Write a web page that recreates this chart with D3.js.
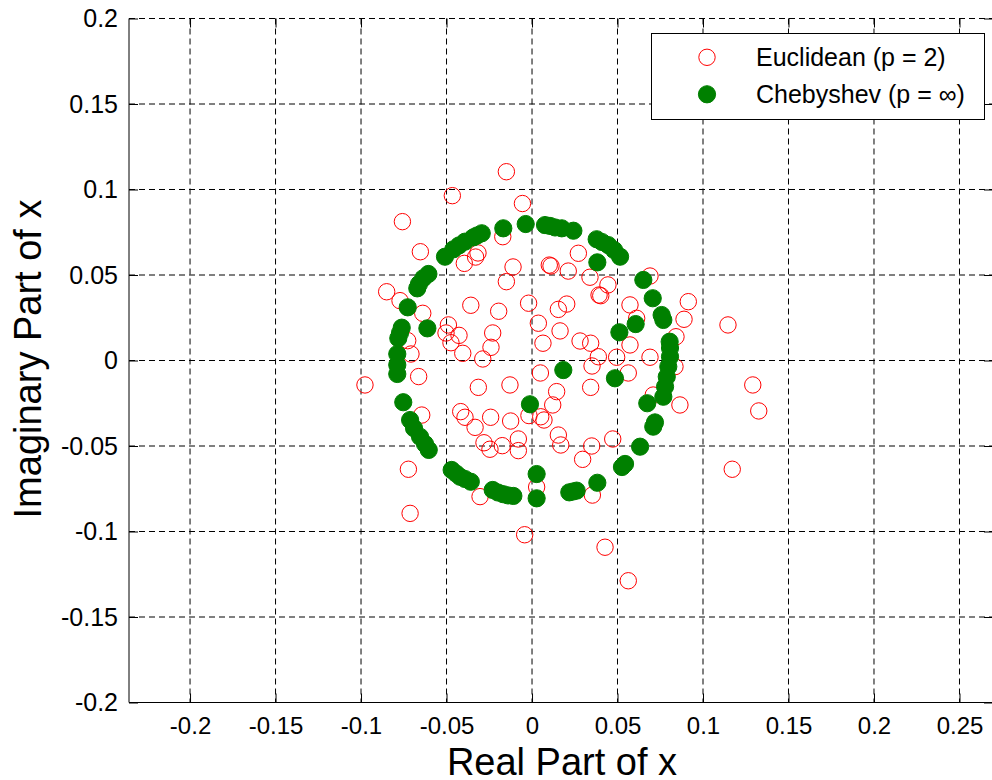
<!DOCTYPE html>
<html><head><meta charset="utf-8">
<script src="https://cdn.jsdelivr.net/npm/d3@7"></script>
<style>body{margin:0;background:#fff}svg{display:block}text{font-family:"Liberation Sans",Arial,Helvetica,sans-serif;fill:#000}</style>
</head><body><svg id="c" width="992" height="780"></svg>
<script>
const xTicks=[-0.2,-0.15,-0.1,-0.05,0,0.05,0.1,0.15,0.2,0.25];
const xTickLabels=["-0.2","-0.15","-0.1","-0.05","0","0.05","0.1","0.15","0.2","0.25"];
const yTicks=[-0.2,-0.15,-0.1,-0.05,0,0.05,0.1,0.15,0.2];
const yTickLabels=["-0.2","-0.15","-0.1","-0.05","0","0.05","0.1","0.15","0.2"];
const xLabel="Real Part of x";
const yLabel="Imaginary Part of x";
const seriesNames=["Euclidean (p = 2)","Chebyshev (p = \u221E)"];

const euclidX=[-0.0150,-0.0056,-0.0466,-0.0758,-0.0171,-0.0653,-0.0111,-0.0150,-0.0396,-0.0330,-0.0316,-0.0850,-0.0772,-0.0639,-0.0358,-0.0195,-0.0020,0.0037,-0.0489,-0.0503,-0.0427,-0.0474,-0.0405,-0.0230,-0.0240,-0.0288,-0.0727,-0.0708,-0.0663,0.0271,0.0101,0.0111,0.0212,0.0339,0.0444,0.0392,0.0402,0.0690,0.0573,0.0612,0.0914,0.0889,0.0154,0.0203,0.0164,0.0064,0.0281,0.0343,0.0573,0.0842,0.0388,0.0351,0.0495,0.0690,0.0836,0.0563,0.0049,0.0144,0.0343,0.0121,-0.0018,0.0051,0.0070,0.0154,0.0168,0.0349,0.0472,0.0296,0.0027,0.0353,-0.0043,0.0427,0.0563,0.0709,0.0865,0.1291,0.1326,0.1171,-0.0977,-0.0314,-0.0129,-0.0417,-0.0392,-0.0333,-0.0242,-0.0125,-0.0645,-0.0281,-0.0246,-0.0174,-0.0080,-0.0080,-0.0723,-0.0304,-0.0713,0.1146];
const euclidY=[0.1104,0.0918,0.0964,0.0812,0.0724,0.0636,0.0547,0.0461,0.0568,0.0605,0.0629,0.0402,0.0350,0.0276,0.0323,0.0288,0.0335,0.0218,0.0208,0.0161,0.0147,0.0104,0.0042,0.0161,0.0077,0.0009,0.0116,0.0038,-0.0094,0.0627,0.0558,0.0553,0.0523,0.0487,0.0442,0.0383,0.0379,0.0494,0.0325,0.0247,0.0344,0.0241,0.0299,0.0330,0.0173,0.0101,0.0114,0.0101,0.0091,0.0139,0.0022,-0.0032,0.0019,0.0019,-0.0036,-0.0073,-0.0073,-0.0182,-0.0157,-0.0260,-0.0322,-0.0329,-0.0348,-0.0436,-0.0494,-0.0500,-0.0459,-0.0578,-0.0740,-0.0787,-0.1019,-0.1092,-0.1288,-0.0202,-0.0260,-0.0143,-0.0295,-0.0636,-0.0143,-0.0157,-0.0143,-0.0299,-0.0332,-0.0391,-0.0332,-0.0354,-0.0319,-0.0481,-0.0519,-0.0498,-0.0459,-0.0527,-0.0636,-0.0796,-0.0894,0.0208];

const chebX=[-0.0037,-0.0168,-0.0294,-0.0322,-0.0343,-0.0392,-0.0427,-0.0460,-0.0509,-0.0606,-0.0636,-0.0661,-0.0671,-0.0727,-0.0762,-0.0772,-0.0782,-0.0788,-0.0788,-0.0788,-0.0612,-0.0753,-0.0713,-0.0690,-0.0655,-0.0626,-0.0604,-0.0470,-0.0444,-0.0421,-0.0392,-0.0358,-0.0230,-0.0199,-0.0168,-0.0140,-0.0109,-0.0012,0.0027,0.0027,0.0218,0.0240,0.0261,0.0382,0.0526,0.0544,0.0632,0.0709,0.0719,0.0674,0.0768,0.0778,0.0788,0.0797,0.0807,0.0807,0.0805,0.0183,0.0485,0.0511,0.0606,0.0758,0.0768,0.0706,0.0651,0.0382,0.0378,0.0409,0.0446,0.0480,0.0515,0.0076,0.0105,0.0135,0.0174,0.0242];
const chebY=[0.0798,0.0773,0.0744,0.0731,0.0720,0.0695,0.0673,0.0650,0.0607,0.0506,0.0481,0.0447,0.0422,0.0311,0.0192,0.0161,0.0130,0.0038,-0.0026,-0.0079,0.0188,-0.0244,-0.0348,-0.0396,-0.0446,-0.0488,-0.0523,-0.0640,-0.0661,-0.0680,-0.0693,-0.0709,-0.0757,-0.0772,-0.0782,-0.0789,-0.0792,-0.0256,-0.0664,-0.0806,-0.0771,-0.0766,-0.0761,-0.0715,-0.0623,-0.0605,-0.0504,-0.0387,-0.0362,-0.0250,-0.0212,-0.0153,-0.0095,-0.0036,0.0022,0.0073,0.0110,-0.0056,-0.0104,0.0165,0.0213,0.0266,0.0237,0.0364,0.0471,0.0574,0.0709,0.0693,0.0675,0.0646,0.0607,0.0792,0.0787,0.0778,0.0773,0.0759];

const svg=d3.select("#c");
const L=129,R=993,T=18.5,B=702.5;
const x=d3.scaleLinear().domain([-0.2357,0.2696]).range([L,R]);
const y=d3.scaleLinear().domain([-0.2,0.2]).range([B,T]);
const tickLen=9;

// grid
const grid=svg.append("g").attr("stroke","#000").attr("stroke-width",1).attr("stroke-dasharray","6,4").attr("fill","none");
grid.selectAll("line.v").data(xTicks).join("line").attr("class","v")
  .attr("x1",d=>x(d)).attr("x2",d=>x(d)).attr("y1",T).attr("y2",B);
grid.selectAll("line.h").data(yTicks.filter(d=>d>-0.2)).join("line").attr("class","h")
  .attr("x1",L).attr("x2",R).attr("y1",d=>y(d)).attr("y2",d=>y(d));

// axes with d3
const xAxisB=d3.axisBottom(x).tickValues(xTicks).tickSize(-tickLen).tickPadding(14).tickFormat((d,i)=>xTickLabels[i]);
const xAxisT=d3.axisTop(x).tickValues(xTicks).tickSize(-tickLen).tickFormat("");
const yAxisL=d3.axisLeft(y).tickValues(yTicks).tickSize(-tickLen).tickPadding(11).tickFormat((d,i)=>yTickLabels[i]);
const yAxisR=d3.axisRight(y).tickValues(yTicks).tickSize(-tickLen).tickFormat("");

const gB=svg.append("g").attr("transform",`translate(0,${B})`).call(xAxisB);
const gT=svg.append("g").attr("transform",`translate(0,${T})`).call(xAxisT);
const gL=svg.append("g").attr("transform",`translate(${L},0)`).call(yAxisL);
const gR=svg.append("g").attr("transform",`translate(${R},0)`).call(yAxisR);
[gB,gT,gL,gR].forEach(g=>{g.selectAll(".tick line").attr("stroke","#000");g.selectAll("text").style("font-family",'"Liberation Sans",Arial,sans-serif').attr("fill","#000");});
gT.select(".domain").remove();
gR.select(".domain").remove();
gB.select(".domain").attr("stroke","#000").attr("d",`M${L},0H${R}`);
gL.select(".domain").attr("stroke","#000").attr("d",`M0,${T}V${B}`);
gB.selectAll("text").style("font-size","24px");
gL.selectAll("text").style("font-size","25px");

// points
const eu=d3.range(euclidX.length).map(i=>({x:euclidX[i],y:euclidY[i]}));
const ch=d3.range(chebX.length).map(i=>({x:chebX[i],y:chebY[i]}));
svg.append("g").selectAll("circle").data(eu).join("circle")
  .attr("cx",d=>x(d.x)).attr("cy",d=>y(d.y)).attr("r",8.2)
  .attr("fill","none").attr("stroke","#ff0000").attr("stroke-width",1);
svg.append("g").selectAll("circle").data(ch).join("circle")
  .attr("cx",d=>x(d.x)).attr("cy",d=>y(d.y)).attr("r",8.6)
  .attr("fill","#008000").attr("stroke","#008000").attr("stroke-width",1);

// labels
svg.append("text").attr("x",562).attr("y",775).attr("text-anchor","middle").style("font-size","38px").text(xLabel);
svg.append("text").attr("transform","translate(41,359) rotate(-90)").attr("text-anchor","middle").style("font-size","38px").text(yLabel);

// legend
const lg=svg.append("g");
lg.append("rect").attr("x",651.5).attr("y",33.5).attr("width",333).attr("height",86).attr("fill","#fff").attr("stroke","#000").attr("stroke-width",1);
const items=[{name:seriesNames[0],type:"e"},{name:seriesNames[1],type:"c"}];
const ly=d3.scalePoint().domain(items.map(d=>d.name)).range([57.3,94.3]);
items.forEach(it=>{
  const cy=ly(it.name);
  if(it.type==="e"){
    lg.append("circle").attr("cx",707).attr("cy",cy).attr("r",8.2).attr("fill","none").attr("stroke","#ff0000");
  } else {
    lg.append("circle").attr("cx",707).attr("cy",cy).attr("r",8.6).attr("fill","#008000").attr("stroke","#008000");
  }
  lg.append("text").attr("x",756).attr("y",cy+8.5).style("font-size","25px").text(it.name);
});
</script></body></html>
